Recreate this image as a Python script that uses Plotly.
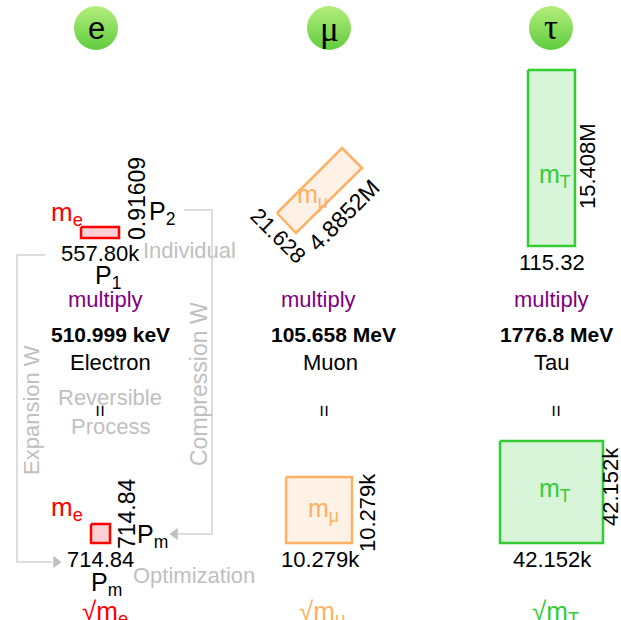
import plotly.graph_objects as go

# ---- content ----
particles = ["e", "μ", "τ"]
masses = ["510.999 keV", "105.658 MeV", "1776.8 MeV"]
names = ["Electron", "Muon", "Tau"]
mass_labels = ["m<sub>e</sub>", "m<sub>μ</sub>", "m<sub>T</sub>"]
root_labels = ["√m<sub>e</sub>", "√m<sub>μ</sub>", "√m<sub>T</sub>"]
top_widths = ["557.80k", "21.628", "115.32"]
top_heights = ["0.91609", "4.8852M", "15.408M"]
bottom_sides = ["714.84", "10.279k", "42.152k"]

# ---- styling ----
RED, ORANGE, GREEN = "#ff0000", "#ffb062", "#33cc33"
FILLS = {RED: "#fbd0d4", ORANGE: "#fef2e6", GREEN: "#d9f5d9"}
GREY = "#c0c0c0"
LINE = "#d2d2d2"
PURPLE = "#800080"
FONT = "Liberation Sans"
SERIF = "Liberation Serif"

fig = go.Figure()


def polygon(xs, ys, color):
    fig.add_trace(go.Scatter(
        x=xs + xs[:1], y=ys + ys[:1], mode="lines", fill="toself",
        fillcolor=FILLS[color], line=dict(color=color, width=2.5),
        hoverinfo="skip", showlegend=False))


def box(x0, y0, x1, y1, color):
    polygon([x0, x1, x1, x0], [y0, y0, y1, y1], color)


def text(x, y, s, size=22, color="black", angle=0, anchor="center", family=FONT):
    fig.add_annotation(x=x, y=y, text=s, showarrow=False, textangle=angle,
                       xanchor=anchor, yanchor="middle",
                       font=dict(size=size, color=color, family=family))


# header circles
fig.add_trace(go.Scatter(
    x=[96, 329, 551], y=[28, 28, 28], mode="markers",
    marker=dict(size=44, color="#b4ee7c", line=dict(width=0),
                gradient=dict(type="vertical", color="#60cc3e")),
    hoverinfo="skip", showlegend=False))
text(96, 28, particles[0], size=31)
text(329, 29, particles[1], size=35, family=SERIF)
text(551, 27, particles[2], size=35, family=SERIF)

# connectors
fig.add_trace(go.Scatter(x=[45, 17, 17, 52], y=[255, 255, 562, 562], mode="lines",
                         line=dict(color=LINE, width=1.5), hoverinfo="skip", showlegend=False))
fig.add_trace(go.Scatter(x=[184, 212, 212, 176], y=[210, 210, 534, 534], mode="lines",
                         line=dict(color=LINE, width=1.5), hoverinfo="skip", showlegend=False))
fig.add_trace(go.Scatter(x=[56], y=[562], mode="markers", hoverinfo="skip", showlegend=False,
                         marker=dict(symbol="triangle-right", size=11, color=GREY)))
fig.add_trace(go.Scatter(x=[175], y=[534], mode="markers", hoverinfo="skip", showlegend=False,
                         marker=dict(symbol="triangle-left", size=11, color=GREY)))

# rectangles
box(81, 227, 119, 238, RED)
polygon([277, 342, 362, 296], [213, 148, 168, 233], ORANGE)
box(528, 70, 575, 246, GREEN)
box(91, 524, 110, 543, RED)
box(286, 477, 352, 543, ORANGE)
box(500, 441, 603, 543, GREEN)

# electron column
text(49, 213, mass_labels[0], color=RED, size=26, anchor="left")
text(137, 199, top_heights[0], angle=-90, size=23)
text(147, 213, "P<sub>2</sub>", size=25, anchor="left")
text(100, 253, top_widths[0])
text(108, 277, "P<sub>1</sub>", size=25)
text(141, 250, "Individual", color=GREY, anchor="left")
text(49, 508, mass_labels[0], color=RED, size=26, anchor="left")
text(127, 514, bottom_sides[0], angle=-90, size=23)
text(135, 536, "P<sub>m</sub>", size=25, anchor="left")
text(100, 559, bottom_sides[0])
text(106, 584, "P<sub>m</sub>", size=25)
text(131, 575, "Optimization", color=GREY, anchor="left")
text(110, 397, "Reversible", color=GREY)
text(110, 426, "Process", color=GREY)
text(31, 410, "Expansion W", color=GREY, angle=-90)
text(199, 384, "Compression W", color=GREY, angle=-90, size=23)

# muon column
text(312, 196, mass_labels[1], color=ORANGE, size=25)
text(278, 235, top_widths[1], angle=45)
text(344, 215, top_heights[1], angle=-45, size=23)
text(323, 510, mass_labels[1], color=ORANGE, size=25)
text(367, 513, bottom_sides[1], angle=-90)
text(320, 559, bottom_sides[1])

# tau column
text(555, 176, mass_labels[2], color=GREEN, size=25)
text(587, 166, top_heights[2], angle=-90)
text(552, 262, top_widths[2])
text(555, 490, mass_labels[2], color=GREEN, size=25)
text(610, 487, bottom_sides[2], angle=-90)
text(552, 559, bottom_sides[2])

# shared rows
for cx, s in zip([105, 318.5, 551.5], ["multiply"] * 3):
    text(cx, 299, s, color=PURPLE)
for cx, s in zip([110, 333, 556], masses):
    text(cx, 334, "<b>" + s + "</b>", size=21)
for cx, s in zip([110, 330, 551], names):
    text(cx, 362, s)
for cx in [99, 323, 555]:
    text(cx, 411, "=", size=21, angle=-90)
for cx, s, c in zip([105, 322, 555], root_labels, [RED, ORANGE, GREEN]):
    text(cx, 612, s, color=c, size=26)

fig.update_layout(
    width=621, height=620, margin=dict(l=0, r=0, t=0, b=0),
    paper_bgcolor="white", plot_bgcolor="white", showlegend=False,
    xaxis=dict(range=[0, 621], visible=False, fixedrange=True),
    yaxis=dict(range=[620, 0], visible=False, fixedrange=True),
)
fig.write_html("out.html", config=dict(displayModeBar=False),
               post_script="document.body.style.margin='0';document.body.style.overflow='hidden';")
